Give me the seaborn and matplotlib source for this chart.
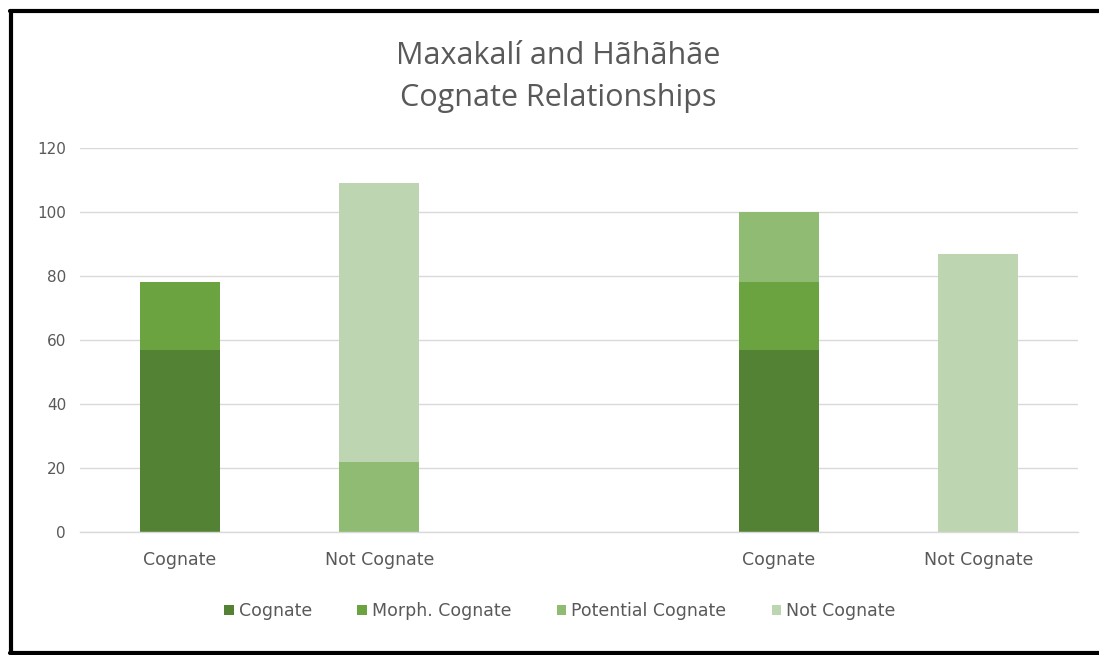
import matplotlib
matplotlib.use("Agg")
import matplotlib.pyplot as plt
import seaborn as sns
import pandas as pd
from matplotlib.lines import Line2D
from matplotlib.patches import Patch

# ---- data ----
slots = ["s1", "s2", "s3", "s4", "s5"]
tick_labels = ["Cognate", "Not Cognate", "", "Cognate", "Not Cognate"]
series_names = ["Cognate", "Morph. Cognate", "Potential Cognate", "Not Cognate"]
cognate = [57, 0, 0, 57, 0]
morph_cognate = [21, 0, 0, 21, 0]
potential_cognate = [0, 22, 0, 22, 0]
not_cognate = [0, 87, 0, 0, 87]
colors = ["#548235", "#6aa33f", "#8fbb72", "#bed5b1"]

title = "Maxakalí and Hãhãhãe\nCognate Relationships"

sns.set_theme(style="white")
plt.rcParams["font.family"] = ["DejaVu Sans"]

fig = plt.figure(figsize=(10.99, 6.55), dpi=100)
ax = fig.add_axes([80 / 1099, 1 - 532 / 655, 998 / 1099, 384 / 655])

series = [cognate, morph_cognate, potential_cognate, not_cognate]
bottom = [0] * len(slots)
for name, vals, col in zip(series_names, series, colors):
    df = pd.DataFrame({"slot": slots, "value": vals})
    sns.barplot(data=df, x="slot", y="value", order=slots, color=col,
                width=0.4, bottom=bottom, ax=ax, errorbar=None,
                linewidth=0, saturation=1)
    bottom = [b + v for b, v in zip(bottom, vals)]

ax.set_xlim(-0.5, 4.5)
ax.set_ylim(0, 120)
ax.set_yticks(range(0, 121, 20))
ax.set_xticks(range(len(slots)))
ax.set_xticklabels(tick_labels)
ax.set_xlabel("")
ax.set_ylabel("")
ax.yaxis.grid(True, color="#d9d9d9", linewidth=1)
ax.set_axisbelow(True)
for s in ["top", "right", "left"]:
    ax.spines[s].set_visible(False)
ax.spines["bottom"].set_color("#d9d9d9")
ax.spines["bottom"].set_linewidth(1)
ax.tick_params(axis="y", length=0, labelsize=11, colors="#595959", pad=10)
ax.tick_params(axis="x", length=0, labelsize=12.5, colors="#595959", pad=14)

fig.text(558 / 1099, 1 - 77 / 655, title, ha="center", va="center",
         fontsize=22, color="#595959", linespacing=1.5,
         family=["Open Sans", "DejaVu Sans"])

handles = [Patch(facecolor=c, edgecolor="none") for c in colors]
fig.legend(handles, series_names, loc="center", ncol=4,
           bbox_to_anchor=(560 / 1099, 1 - 611 / 655), frameon=False,
           fontsize=12.5, handlelength=0.55, handleheight=0.55,
           handletextpad=0.3, columnspacing=2.6, labelcolor="#595959")

# outer frame lines
fig.add_artist(Line2D([11 / 1099, 11 / 1099], [1 - 11 / 655, 1 - 653 / 655],
                      transform=fig.transFigure, color="black", linewidth=3))
fig.add_artist(Line2D([10 / 1099, 1.0], [1 - 11 / 655, 1 - 11 / 655],
                      transform=fig.transFigure, color="black", linewidth=3))
fig.add_artist(Line2D([10 / 1099, 1.0], [1 - 653 / 655, 1 - 653 / 655],
                      transform=fig.transFigure, color="black", linewidth=3))

fig.savefig("out.png", dpi=100)
